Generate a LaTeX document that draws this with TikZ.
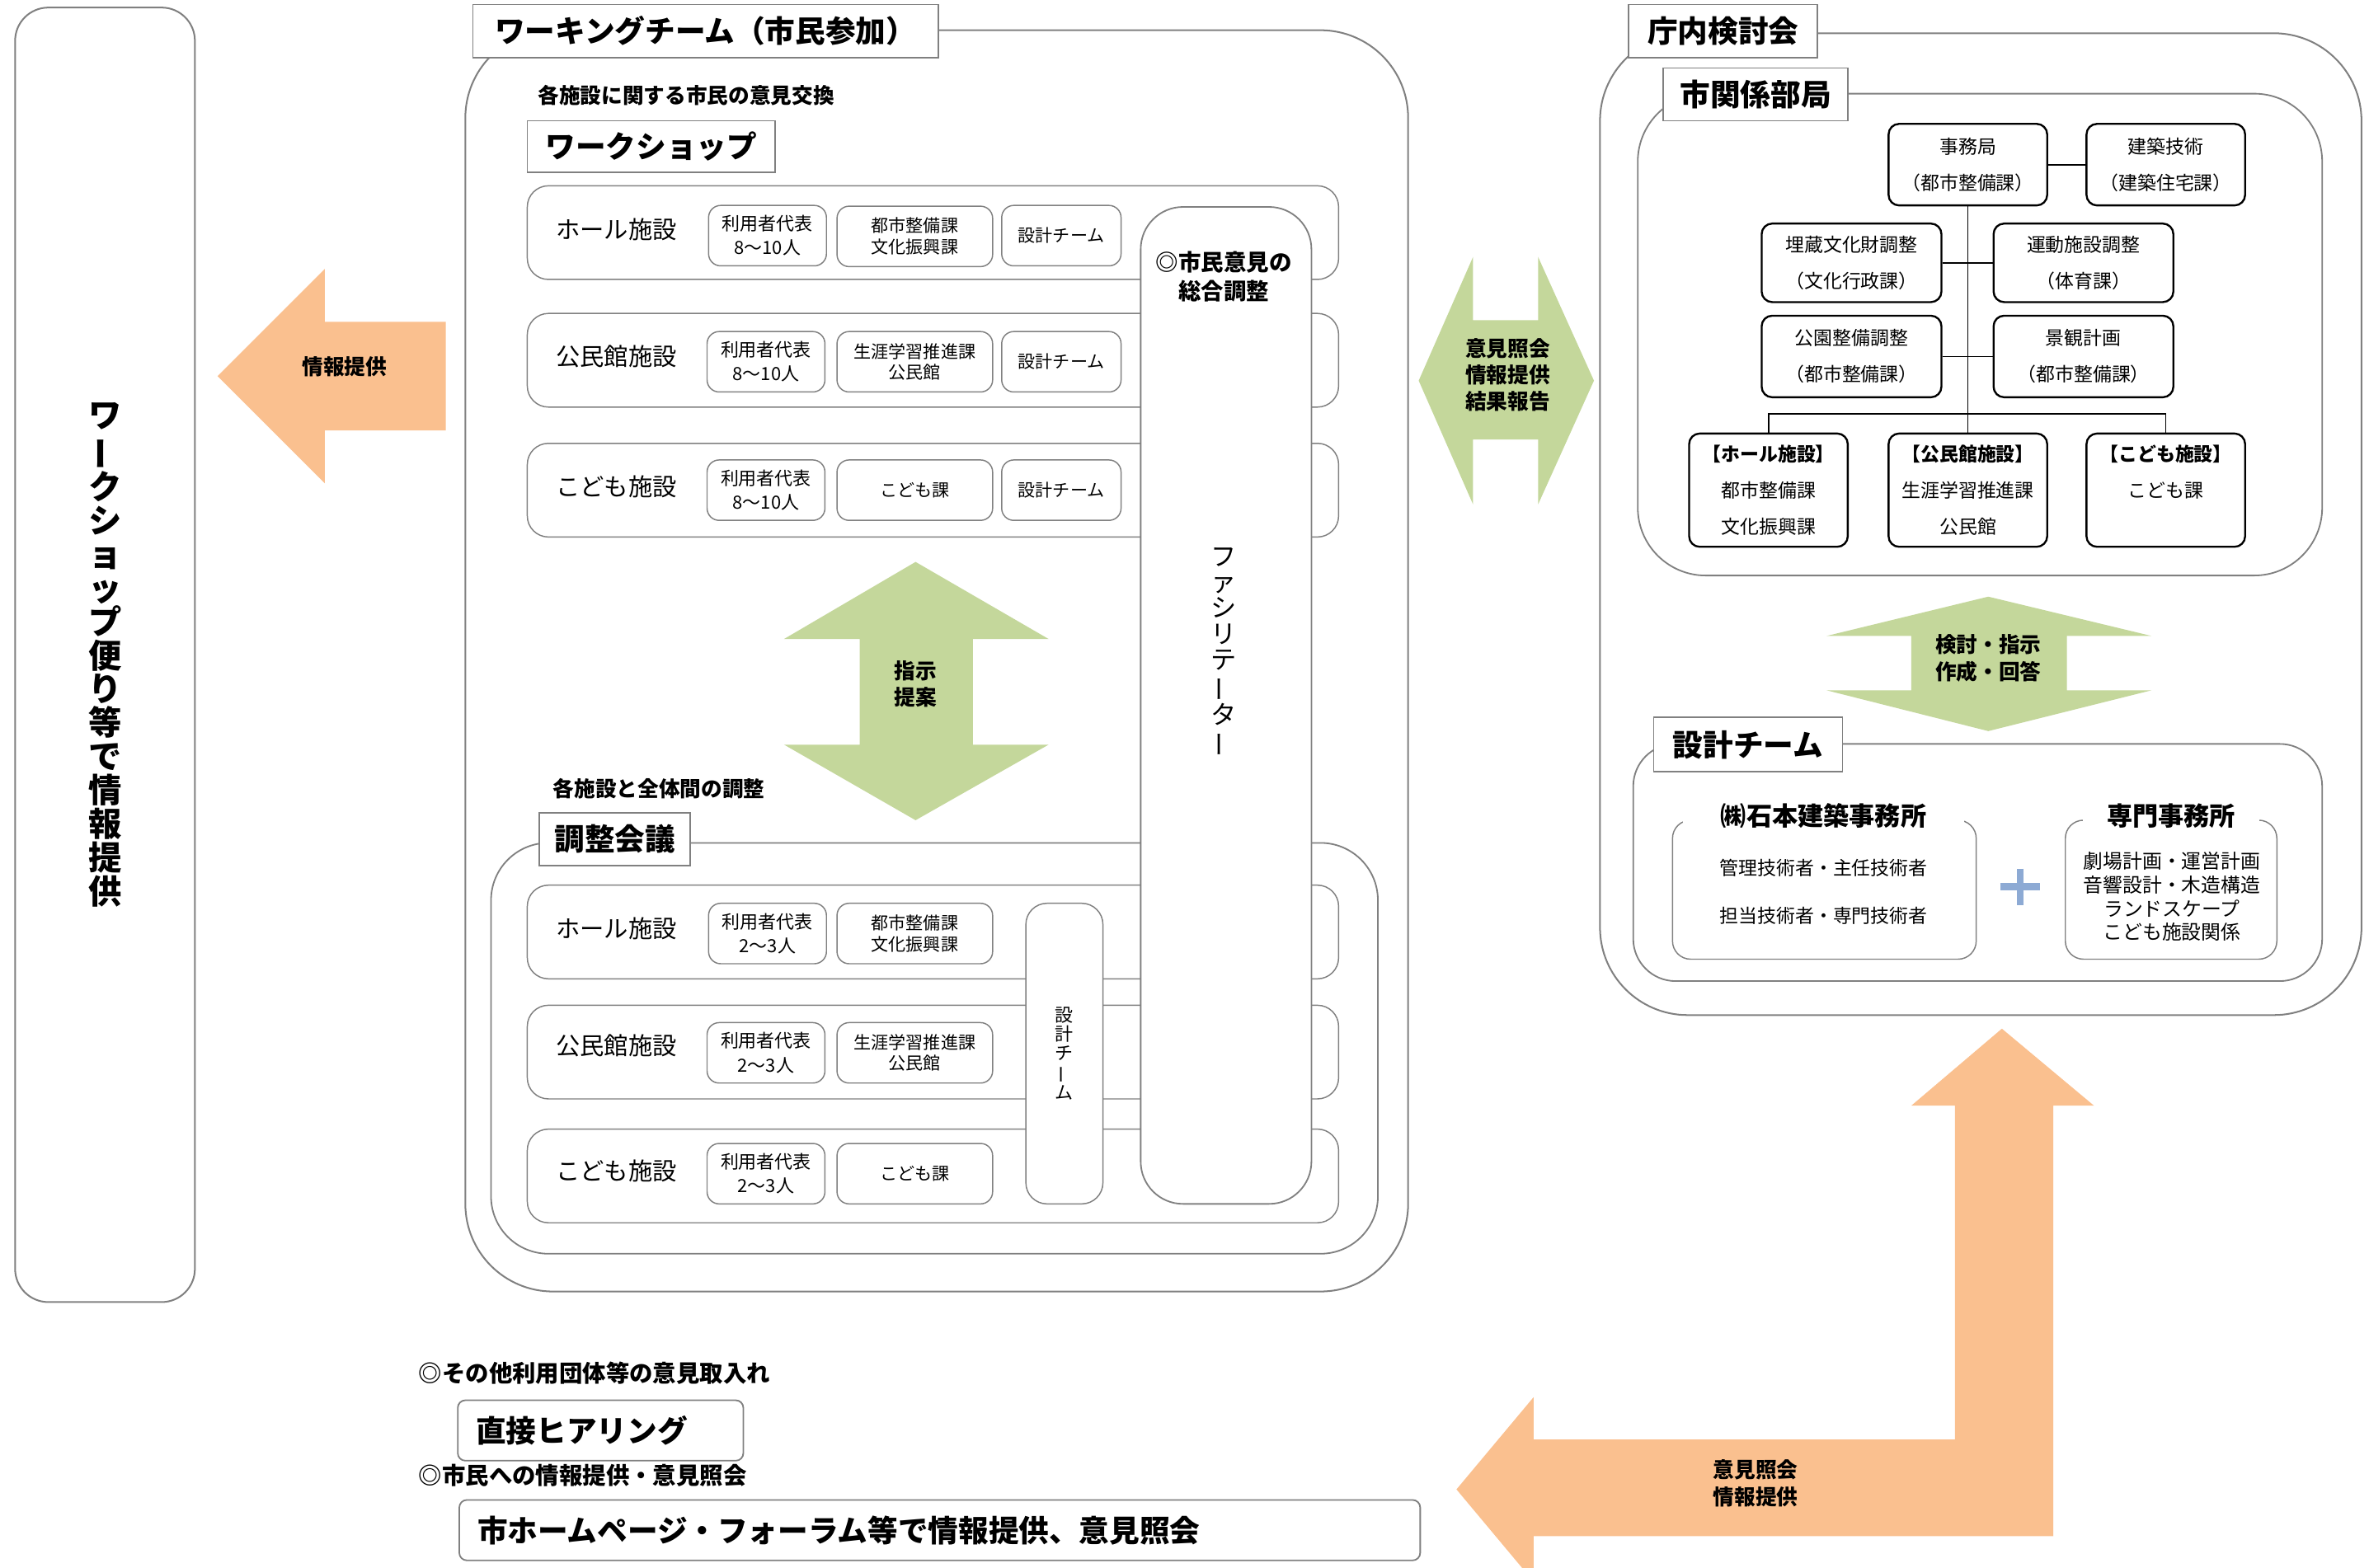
\documentclass[tikz,border=0pt]{standalone}
\usepackage{fontspec}
\setmainfont{Noto Sans CJK JP}
\usepackage{graphicx}
\usepackage{tikz}

\begin{document}
\begin{tikzpicture}[x=1pt, y=-1pt, every node/.style={inner sep=0pt},
    tagbox/.style={draw=linegray, line width=1pt, fill=white, font=\fontsize{20}{24}\selectfont\bfseries},
    bigbox/.style={draw=linegray, line width=1.1pt, fill=white},
    rowbox/.style={draw=linegray, line width=0.8pt, fill=white, rounded corners=14pt, minimum width=537, minimum height=62},
    cellbox/.style={draw=linegray, line width=0.8pt, fill=white, rounded corners=8pt, minimum height=40, align=center, font=\fontsize{11.5}{14}\selectfont},
    usercell/.style={cellbox, minimum width=78, font=\fontsize{12}{16}\selectfont},
    rowlabel/.style={font=\fontsize{16}{19}\selectfont},
    orgbox/.style={draw=black, line width=1.3pt, fill=white, rounded corners=7pt, minimum width=105, align=center, font=\fontsize{12.5}{24}\selectfont},
    note/.style={anchor=west, font=\fontsize{14}{17}\selectfont\bfseries},
    arrowtext/.style={align=center, font=\fontsize{14}{17.5}\selectfont\bfseries}]
        \definecolor{linegray}{RGB}{128,128,128}
        \definecolor{leafgreen}{RGB}{196,215,155}
        \definecolor{peach}{RGB}{250,192,143}
        \definecolor{plusblue}{RGB}{141,170,212}

        \useasboundingbox (0,0) rectangle (1568,1038);

        % Newsletter column on the left
        \node[bigbox, rounded corners=22pt, minimum width=119, minimum height=857, align=center, font=\fontsize{22}{22.3}\selectfont\bfseries] (newsbox) at (69.5,433.5) {ワ\\\rotatebox[origin=c]{90}{ー}\\ク\\シ\\ョ\\ッ\\プ\\便\\り\\等\\で\\情\\報\\提\\供};
        \fill[peach] (144,249) -- (215,178) -- (215,213) -- (295,213) -- (295,285) -- (215,285) -- (215,320) -- cycle;
        \node[arrowtext] (newsnote) at (228,243) {情報提供};

        % Working team frame
        \node[bigbox, rounded corners=58pt, minimum width=624, minimum height=835] (wteam) at (620,437.5) {};
        \node[tagbox, minimum width=308, minimum height=35] (wteamtag) at (467,20.5) {ワーキングチーム（市民参加）};

        % Workshop rows
        \node[note] (wsnote) at (356,63) {各施設に関する市民の意見交換};
        \node[tagbox, minimum width=164, minimum height=34] (wshop) at (431,97) {ワークショップ};
        \node[rowbox] (wrow1) at (617.5,154) {};
        \node[rowbox] (wrow2) at (617.5,238.5) {};
        \node[rowbox] (wrow3) at (617.5,324.5) {};
        \node[rowlabel] (wlab1) at (408,152) {ホール施設};
        \node[rowlabel] (wlab2) at (408,236) {公民館施設};
        \node[rowlabel] (wlab3) at (408,322) {こども施設};
        \node[usercell] (wuser1) at (508,156) {利用者代表\\8〜10人};
        \node[usercell] (wuser2) at (507,239.5) {利用者代表\\8〜10人};
        \node[usercell] (wuser3) at (507,324.5) {利用者代表\\8〜10人};
        \node[cellbox, minimum width=103] (wdept1) at (605.5,156.5) {都市整備課\\文化振興課};
        \node[cellbox, minimum width=103] (wdept2) at (605.5,239.5) {生涯学習推進課\\公民館};
        \node[cellbox, minimum width=103] (wdept3) at (605.5,324.5) {こども課};
        \node[cellbox, minimum width=79] (wdes1) at (702.5,156) {設計チーム};
        \node[cellbox, minimum width=79] (wdes2) at (702.5,239.5) {設計チーム};
        \node[cellbox, minimum width=79] (wdes3) at (702.5,324.5) {設計チーム};

        % Instruction / proposal arrow
        \fill[leafgreen] (606,372) -- (694,423) -- (644,423) -- (644,493) -- (694,493) -- (606,543) -- (519,493) -- (569,493) -- (569,423) -- (519,423) -- cycle;
        \node[arrowtext] (sijinote) at (606,453) {指示\\提案};

        % Coordination meeting
        \node[note] (adjnote) at (366,522) {各施設と全体間の調整};
        \node[bigbox, line width=1pt, rounded corners=38pt, minimum width=587, minimum height=272] (adj) at (618.5,694) {};
        \node[tagbox, minimum width=100, minimum height=35] (adjtag) at (407,555.5) {調整会議};
        \node[rowbox] (arow1) at (617.5,617) {};
        \node[rowbox] (arow2) at (617.5,696.5) {};
        \node[rowbox] (arow3) at (617.5,778.5) {};
        \node[rowlabel] (alab1) at (408,615) {ホール施設};
        \node[rowlabel] (alab2) at (408,692) {公民館施設};
        \node[rowlabel] (alab3) at (408,775) {こども施設};
        \node[usercell] (auser1) at (508,618) {利用者代表\\2〜3人};
        \node[usercell] (auser2) at (507,697) {利用者代表\\2〜3人};
        \node[usercell] (auser3) at (507,777) {利用者代表\\2〜3人};
        \node[cellbox, minimum width=103] (adept1) at (605.5,618) {都市整備課\\文化振興課};
        \node[cellbox, minimum width=103] (adept2) at (605.5,697) {生涯学習推進課\\公民館};
        \node[cellbox, minimum width=103] (adept3) at (605.5,777) {こども課};
        \node[cellbox, rounded corners=14pt, minimum width=51, minimum height=199, font=\fontsize{12}{12.5}\selectfont] (ades) at (704.5,697.5) {設\\計\\チ\\\rotatebox[origin=c]{90}{ー}\\ム};

        % Facilitator column
        \node[bigbox, line width=1pt, rounded corners=28pt, minimum width=113, minimum height=660] (fac) at (811.5,467) {};
        \node[align=center, font=\fontsize{15}{19}\selectfont\bfseries] (facnote) at (810,183) {◎市民意見の\\総合調整};
        \node[align=center, font=\fontsize{17}{17}\selectfont] (factext) at (810,432) {フ\\ァ\\シ\\リ\\テ\\\rotatebox[origin=c]{90}{ー}\\タ\\\rotatebox[origin=c]{90}{ー}};

        % Exchange arrow between both sides
        \fill[leafgreen] (939,252) -- (975,170) -- (975,212) -- (1018,212) -- (1018,170) -- (1055,252) -- (1018,334) -- (1018,291) -- (975,291) -- (975,334) -- cycle;
        \node[arrowtext] (midnote) at (998,248) {意見照会\\情報提供\\結果報告};

        % City office meeting
        \node[bigbox, rounded corners=58pt, minimum width=504, minimum height=650] (chonai) at (1311,347) {};
        \node[tagbox, minimum width=125, minimum height=35] (chonaitag) at (1140.5,20.5) {庁内検討会};
        \node[bigbox, line width=1pt, rounded corners=45pt, minimum width=453, minimum height=319] (shikan) at (1310.5,221.5) {};
        \node[tagbox, minimum width=122, minimum height=35] (shikantag) at (1162,62.5) {市関係部局};

        % Departments
        \node[orgbox, minimum height=54] (jimu) at (1302.5,109) {事務局\\（都市整備課）};
        \node[orgbox, minimum height=54] (kenchiku) at (1433.5,109) {建築技術\\（建築住宅課）};
        \node[orgbox, minimum width=119, minimum height=52] (maizo) at (1225.5,174) {埋蔵文化財調整\\（文化行政課）};
        \node[orgbox, minimum width=119, minimum height=52] (undo) at (1379,174) {運動施設調整\\（体育課）};
        \node[orgbox, minimum width=119, minimum height=54] (koen) at (1225.5,236) {公園整備調整\\（都市整備課）};
        \node[orgbox, minimum width=119, minimum height=54] (keikan) at (1379,236) {景観計画\\（都市整備課）};
        \node[orgbox, minimum height=75] (hall) at (1170.5,324.5) {\textbf{【ホール施設】}\\都市整備課\\文化振興課};
        \node[orgbox, minimum height=75] (komin) at (1302.5,324.5) {\textbf{【公民館施設】}\\生涯学習推進課\\公民館};
        \node[orgbox, minimum height=75] (kodomo) at (1433.5,324.5) {\textbf{【こども施設】}\\こども課\\\phantom{こども課}};
        \coordinate (bus) at (1302.5,274);
        \draw[line width=1.3pt] (jimu) -- (kenchiku);
        \draw[line width=0.9pt] (jimu) -- (komin);
        \draw[line width=0.9pt] (maizo) -- (undo);
        \draw[line width=0.9pt] (koen) -- (keikan);
        \draw[line width=0.9pt] (hall.north) |- (bus) -| (kodomo.north);

        % Review arrow
        \fill[leafgreen] (1316,395) -- (1424,421) -- (1368,421) -- (1368,457) -- (1424,457) -- (1316,484) -- (1209,457) -- (1265,457) -- (1265,421) -- (1209,421) -- cycle;
        \node[arrowtext, font=\fontsize{14}{18}\selectfont\bfseries] (kentonote) at (1316,436) {検討・指示\\作成・回答};

        % Design team
        \node[bigbox, line width=1pt, rounded corners=28pt, minimum width=456, minimum height=157] (sekkei) at (1309,571) {};
        \node[tagbox, minimum width=125, minimum height=36] (sekkeitag) at (1157,493) {設計チーム};
        \node[draw=linegray, line width=0.8pt, rounded corners=12pt, minimum width=201, minimum height=92] (ishimoto) at (1207.5,589) {};
        \node[fill=white, minimum width=186, font=\fontsize{17}{20}\selectfont\bfseries] (ishimotohead) at (1207,540) {㈱石本建築事務所};
        \node[align=center, font=\fontsize{12.5}{31.5}\selectfont] (ishimototext) at (1207,590.5) {管理技術者・主任技術者\\担当技術者・専門技術者};
        \node[draw=linegray, line width=0.8pt, rounded corners=12pt, minimum width=140, minimum height=92] (senmon) at (1437,589) {};
        \node[fill=white, minimum width=117, font=\fontsize{17}{20}\selectfont\bfseries] (senmonhead) at (1437,540) {専門事務所};
        \node[align=center, font=\fontsize{13}{15.8}\selectfont] (senmontext) at (1437.5,593.5) {劇場計画・運営計画\\音響設計・木造構造\\ランドスケープ\\こども施設関係};
        \draw[plusblue, line width=4.5pt] (1324,587) -- (1350,587) (1337,575) -- (1337,599);

        % Return arrow to the citizens
        \fill[peach] (1325,681) -- (1386,732) -- (1359,732) -- (1359,1017) -- (1015,1017) -- (1015,1047) -- (964,986) -- (1015,925) -- (1015,953) -- (1294,953) -- (1294,732) -- (1265,732) -- cycle;
        \node[arrowtext, font=\fontsize{14}{18}\selectfont\bfseries] (replynote) at (1162,982) {意見照会\\情報提供};

        % Other channels
        \node[note, font=\fontsize{15.5}{18}\selectfont\bfseries] (hearnote) at (277,909) {◎その他利用団体等の意見取入れ};
        \node[bigbox, line width=1pt, rounded corners=5pt, minimum width=189, minimum height=40, text width=165, align=left, font=\fontsize{20}{24}\selectfont\bfseries] (hearing) at (397.5,947) {直接ヒアリング};
        \node[note, font=\fontsize{15.5}{18}\selectfont\bfseries] (webnote) at (277,977) {◎市民への情報提供・意見照会};
        \node[bigbox, line width=1pt, rounded corners=5pt, minimum width=636, minimum height=40, text width=612, align=left, font=\fontsize{20}{24}\selectfont\bfseries] (web) at (622,1013) {市ホームページ・フォーラム等で情報提供、意見照会};
    \end{tikzpicture}
\end{document}
